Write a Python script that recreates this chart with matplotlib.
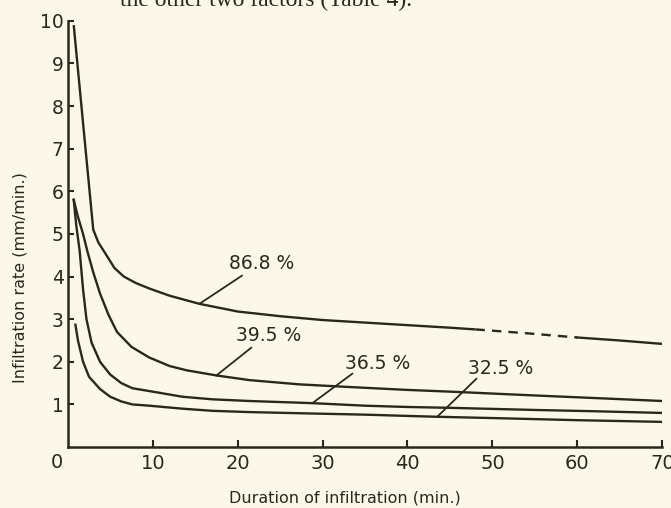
import matplotlib
matplotlib.use("Agg")
import matplotlib.pyplot as plt

# ---- data ----
x_868 = [0.7, 1.8, 3.0, 3.6, 4.4, 5.5, 6.6, 8.0, 9.6, 12, 15.5, 20, 25, 30, 35, 40, 45, 48]
y_868 = [9.9, 7.6, 5.1, 4.8, 4.55, 4.2, 4.0, 3.85, 3.72, 3.55, 3.36, 3.18, 3.07, 2.98, 2.92, 2.86, 2.8, 2.76]
x_868_dash = [48, 54, 60]
y_868_dash = [2.76, 2.67, 2.57]
x_868_end = [60, 65, 70]
y_868_end = [2.57, 2.5, 2.42]

x_395 = [0.7, 1.2, 1.8, 2.3, 3.0, 3.8, 4.8, 5.8, 7.5, 9.6, 12, 14, 17.5, 21.4, 27.3, 33, 40, 45, 55, 62, 70]
y_395 = [5.8, 5.4, 5.0, 4.6, 4.1, 3.6, 3.1, 2.7, 2.35, 2.1, 1.9, 1.8, 1.68, 1.57, 1.47, 1.41, 1.34, 1.3, 1.21, 1.15, 1.08]

x_365 = [0.7, 1.0, 1.4, 1.8, 2.2, 2.8, 3.8, 5.0, 6.3, 7.6, 10, 13.5, 17, 21.4, 28.8, 35, 40, 45, 55, 62, 70]
y_365 = [5.8, 5.2, 4.6, 3.7, 3.0, 2.45, 2.0, 1.7, 1.5, 1.38, 1.3, 1.18, 1.12, 1.08, 1.03, 0.97, 0.94, 0.92, 0.87, 0.84, 0.80]

x_325 = [0.9, 1.2, 1.8, 2.5, 3.8, 5.0, 6.3, 7.6, 9.6, 13.5, 17, 21.4, 28, 35, 40, 43.5, 50, 60, 70]
y_325 = [2.87, 2.5, 2.0, 1.65, 1.36, 1.18, 1.07, 1.0, 0.97, 0.9, 0.85, 0.82, 0.79, 0.76, 0.73, 0.71, 0.68, 0.63, 0.59]

labels = ["86.8 %", "39.5 %", "36.5 %", "32.5 %"]
label_pos = [(22.8, 4.3), (23.6, 2.62), (36.5, 1.95), (51.0, 1.84)]
leader_start = [(20.5, 4.02), (21.6, 2.33), (33.5, 1.72), (48.1, 1.60)]
leader_end = [(15.5, 3.36), (17.5, 1.68), (28.8, 1.03), (43.5, 0.71)]

x_ticks = [10, 20, 30, 40, 50, 60, 70]
y_ticks = [1, 2, 3, 4, 5, 6, 7, 8, 9, 10]

# ---- styling ----
bg = "#fbf8ea"
ink = "#2a281d"
plt.rcParams['font.family'] = ['DejaVu Sans']

fig = plt.figure(figsize=(6.71, 5.08), dpi=100, facecolor=bg)
ax = fig.add_axes([0.101, 0.120, 0.886, 0.839], facecolor=bg)

lw = 1.7
ax.plot(x_868, y_868, color=ink, lw=lw, solid_capstyle='butt')
ax.plot(x_868_dash, y_868_dash, color=ink, lw=lw, linestyle=(0, (4, 3)))
ax.plot(x_868_end, y_868_end, color=ink, lw=lw)
ax.plot(x_395, y_395, color=ink, lw=lw)
ax.plot(x_365, y_365, color=ink, lw=lw)
ax.plot(x_325, y_325, color=ink, lw=lw)

for lab, (lx, ly), (sx, sy), (ex, ey) in zip(labels, label_pos, leader_start, leader_end):
    ax.text(lx, ly, lab, ha='center', va='center', fontsize=13.5, color=ink)
    ax.plot([sx, ex], [sy, ey], color=ink, lw=1.3)

ax.set_xlim(0, 70)
ax.set_ylim(0, 10)
for s in ['top', 'right']:
    ax.spines[s].set_visible(False)
for s in ['left', 'bottom']:
    ax.spines[s].set_color(ink)
    ax.spines[s].set_linewidth(1.8)

ax.set_xticks(x_ticks)
ax.set_xticklabels([str(v) for v in x_ticks])
ax.set_yticks(y_ticks)
ax.set_yticklabels([str(v) for v in y_ticks])
ax.tick_params(axis='x', direction='in', length=5, width=1.5, colors=ink,
               labelsize=14, pad=5)
ax.tick_params(axis='y', direction='in', length=4, width=1.5, colors=ink,
               labelsize=13.5, pad=3)

# origin label
ax.text(-0.0185, -0.036, "0", transform=ax.transAxes, ha='center', va='center',
        fontsize=14, color=ink)

fig.text(345 / 671, 1 - 498 / 508, "Duration of infiltration (min.)",
         ha='center', va='center', fontsize=11.5, color=ink)
fig.text(20 / 671, 1 - 278 / 508, "Infiltration rate (mm/min.)",
         ha='center', va='center', rotation=90, fontsize=11.5, color=ink)

# clipped body text at the very top of the scanned page
fig.text(120 / 671, 1 - 6 / 508, "the other two factors (Table 4).",
         ha='left', va='baseline', fontsize=17, color=ink,
         family=['Liberation Serif', 'DejaVu Serif'])

fig.savefig("out.png", dpi=100, facecolor=bg)
